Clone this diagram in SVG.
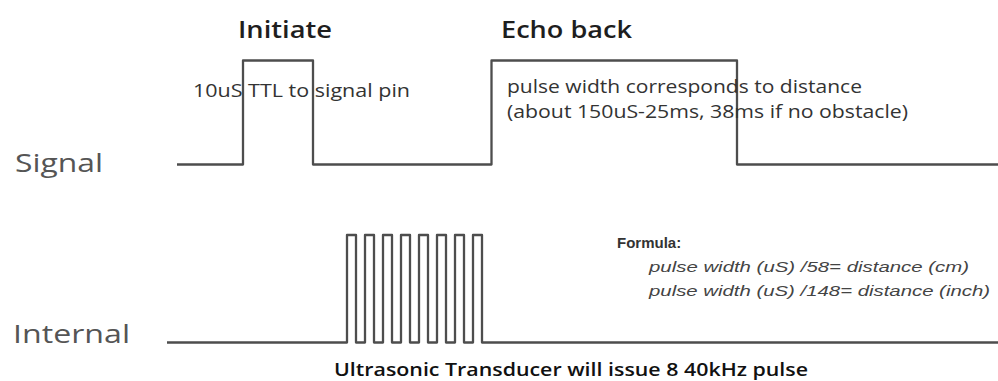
<svg xmlns="http://www.w3.org/2000/svg" width="998" height="381" viewBox="0 0 998 381">
<style>
.bg{fill:#ffffff}
.wave{fill:none;stroke:#4d4d4d;stroke-width:2.3;stroke-linejoin:round}
.lbl{font-family:"Open Sans","Noto Sans",sans-serif;fill:#555555;font-size:25px}
.head{font-family:"Open Sans","Noto Sans",sans-serif;fill:#1e1e1e;font-size:23px;font-weight:600}
.note{font-family:"Open Sans","Noto Sans",sans-serif;fill:#333333;font-size:18px}
.bottom{font-family:"Open Sans","Noto Sans",sans-serif;fill:#111111;font-size:18px;font-weight:600}
.fhead{font-family:"Liberation Sans",Arial,sans-serif;fill:#333333;font-size:15px;font-weight:bold}
.form{font-family:"Liberation Sans",Arial,sans-serif;fill:#444444;font-size:15px;font-style:italic}
</style>
<rect class="bg" x="0" y="0" width="998" height="381"/>
<g id="connectors">
  <path id="signal-wave" class="wave" d="M177,164.5 H243 V60.5 H313 V164.5 H491.5 V60.5 H737 V164.5 H998"/>
  <path id="internal-wave" class="wave" d="M167,342.5 H347 V235 H356 V342.5 H365 V235 H374 V342.5 H383 V235 H392 V342.5 H401 V235 H410 V342.5 H419 V235 H428 V342.5 H437 V235 H446 V342.5 H455 V235 H464 V342.5 H473 V235 H482 V342.5 H998"/>
</g>
<g id="signal-label"><text class="lbl" x="15" y="172" textLength="88" lengthAdjust="spacingAndGlyphs">Signal</text></g>
<g id="internal-label"><text class="lbl" x="13" y="343" textLength="117" lengthAdjust="spacingAndGlyphs">Internal</text></g>
<g id="initiate"><text class="head" x="238" y="38" textLength="94" lengthAdjust="spacingAndGlyphs">Initiate</text>
<text class="note" x="193" y="97" textLength="217" lengthAdjust="spacingAndGlyphs">10uS TTL to signal pin</text></g>
<g id="echo"><text class="head" x="501" y="38" textLength="131" lengthAdjust="spacingAndGlyphs">Echo back</text>
<text class="note" x="507" y="93" textLength="355" lengthAdjust="spacingAndGlyphs">pulse width corresponds to distance</text>
<text class="note" x="507" y="118" textLength="401" lengthAdjust="spacingAndGlyphs">(about 150uS-25ms, 38ms if no obstacle)</text></g>
<g id="formula"><text class="fhead" x="617" y="248">Formula:</text>
<text class="form" x="649" y="272" textLength="320" lengthAdjust="spacingAndGlyphs">pulse width (uS) /58= distance (cm)</text>
<text class="form" x="649" y="296" textLength="341" lengthAdjust="spacingAndGlyphs">pulse width (uS) /148= distance (inch)</text></g>
<g id="transducer-note"><text class="bottom" x="334" y="376" textLength="474" lengthAdjust="spacingAndGlyphs">Ultrasonic Transducer will issue 8 40kHz pulse</text></g>
</svg>
